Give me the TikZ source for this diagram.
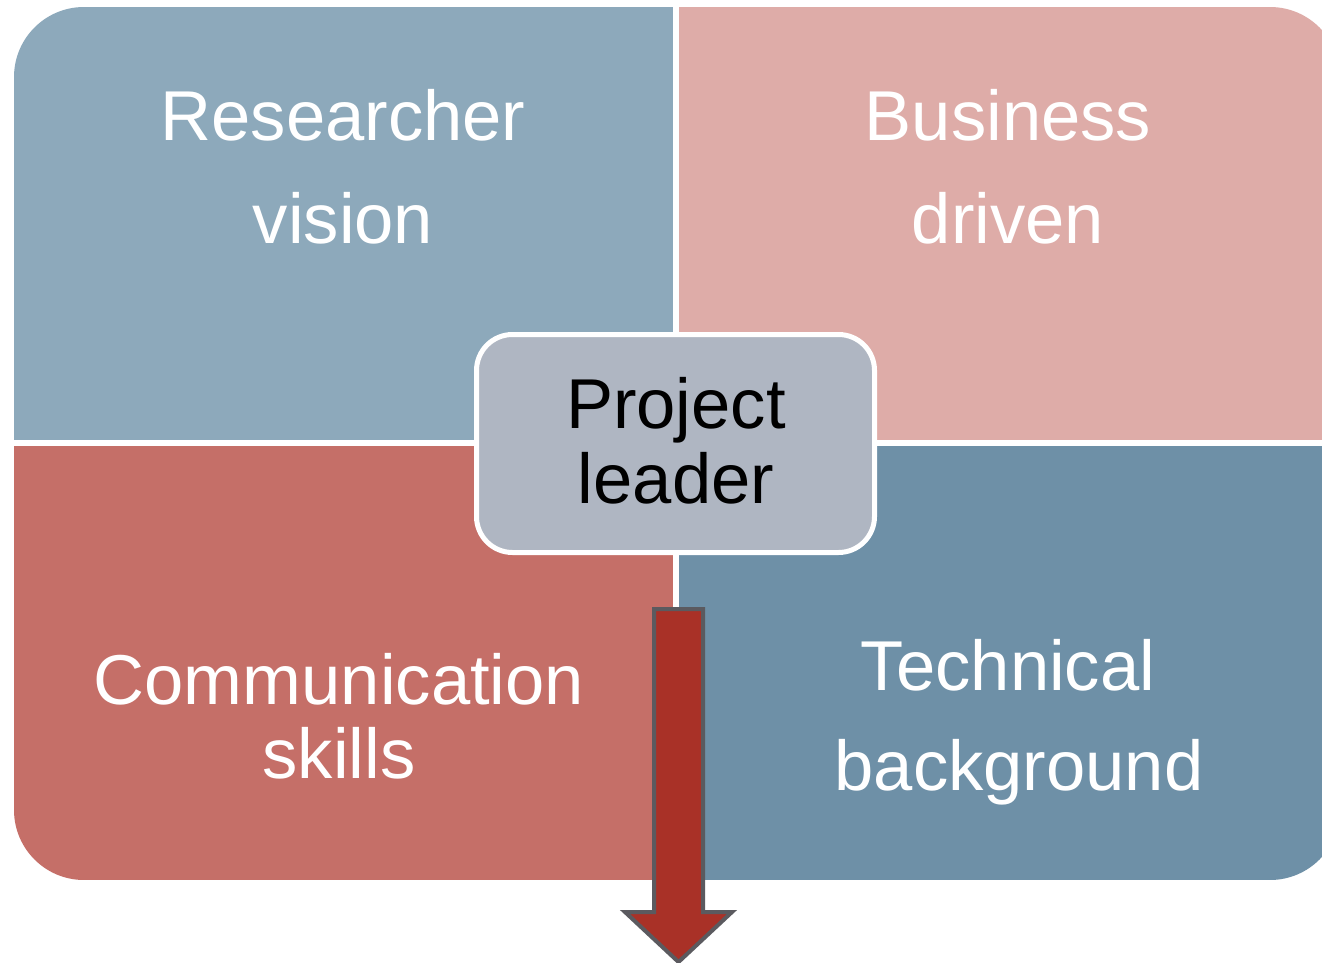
\documentclass[tikz,border=0pt]{standalone}
\usepackage{fontspec}
\setmainfont{Liberation Sans}
\definecolor{qTL}{HTML}{8DA9BB}
\definecolor{qTR}{HTML}{DEACA8}
\definecolor{qBL}{HTML}{C56F68}
\definecolor{qBR}{HTML}{6E90A7}
\definecolor{cbox}{HTML}{AFB6C2}
\definecolor{arrfill}{HTML}{A93127}
\definecolor{arrline}{HTML}{5B5A5F}
\tikzset{
  quadtext/.style={anchor=base, text=white, inner sep=0pt, font=\fontsize{70.6}{84}\selectfont},
  centertext/.style={anchor=base, text=black, inner sep=0pt, font=\fontsize{70.6}{84}\selectfont},
  centerbox/.style={fill=cbox, draw=white, line width=5pt, rounded corners=36pt},
  arrowshape/.style={fill=arrfill, draw=arrline, line width=4pt, line join=miter}
}
\begin{document}
\begin{tikzpicture}[x=1pt,y=-1pt]
\useasboundingbox (0,0) rectangle (1322,963);
\fill[white] (0,0) rectangle (1322,963);
\begin{scope}
  \clip (0,0) rectangle (1322,963);
  \clip[rounded corners=70pt] (14,7) rectangle (1340,880);
  \fill[qTL] (14,7) rectangle (673,440);
  \fill[qTR] (679,7) rectangle (1340,440);
  \fill[qBL] (14,446) rectangle (673,880);
  \fill[qBR] (679,446) rectangle (1340,880);
\end{scope}
\node[quadtext] (r1) at (343,140) {Researcher};
\node[quadtext] (r2) at (343,243) {vision};
\node[quadtext] (b1) at (1008,140) {Business};
\node[quadtext] (b2) at (1008,243) {driven};
\node[quadtext] (c1) at (339,704) {Communication};
\node[quadtext] (c2) at (339,778) {skills};
\node[quadtext] (t1) at (1008,690) {Technical};
\node[quadtext] (t2) at (1019,790) {background};
\draw[centerbox] (476.5,334.5) rectangle (874.5,552.5);
\node[centertext] (p1) at (676,428) {Project};
\node[centertext] (p2) at (676,503) {leader};
\draw[arrowshape] (654,609) -- (703,609) -- (703,912) -- (732,912) -- (678.5,962) -- (625,912) -- (654,912) -- cycle;
\end{tikzpicture}
\end{document}
